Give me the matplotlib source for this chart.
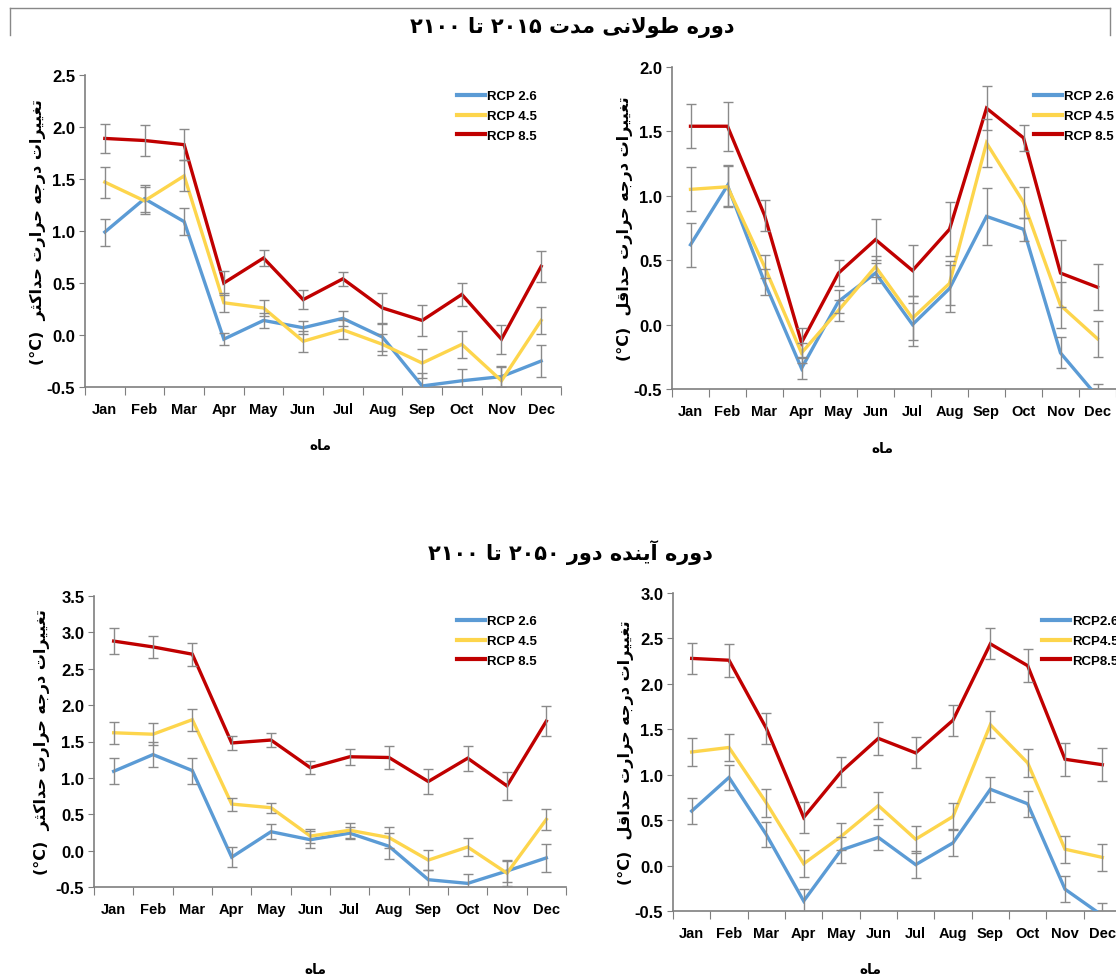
import re
import matplotlib
matplotlib.use('Agg')
from matplotlib import pyplot as plt
from matplotlib.lines import Line2D

months = ['Jan', 'Feb', 'Mar', 'Apr', 'May', 'Jun', 'Jul', 'Aug', 'Sep', 'Oct', 'Nov', 'Dec']
scenarios = ['RCP 2.6', 'RCP 4.5', 'RCP 8.5']
scenarios_nospace = ['RCP2.6', 'RCP4.5', 'RCP8.5']

# long term 2015-2100, max temperature change
tl_rcp26 = [0.99, 1.31, 1.09, -0.04, 0.14, 0.07, 0.16, -0.02, -0.49, -0.44, -0.40, -0.25]
tl_rcp26_err = [0.13, 0.13, 0.13, 0.06, 0.07, 0.06, 0.07, 0.13, 0.12, 0.11, 0.10, 0.15]
tl_rcp45 = [1.47, 1.29, 1.53, 0.31, 0.26, -0.06, 0.05, -0.09, -0.27, -0.09, -0.44, 0.14]
tl_rcp45_err = [0.15, 0.13, 0.15, 0.09, 0.08, 0.10, 0.09, 0.10, 0.14, 0.13, 0.13, 0.13]
tl_rcp85 = [1.89, 1.87, 1.83, 0.50, 0.74, 0.34, 0.54, 0.26, 0.14, 0.39, -0.04, 0.66]
tl_rcp85_err = [0.14, 0.15, 0.15, 0.12, 0.08, 0.09, 0.07, 0.14, 0.15, 0.11, 0.14, 0.15]

# long term 2015-2100, min temperature change
tr_rcp26 = [0.62, 1.08, 0.33, -0.34, 0.18, 0.40, 0.00, 0.28, 0.84, 0.74, -0.22, -0.56]
tr_rcp26_err = [0.17, 0.16, 0.10, 0.08, 0.09, 0.08, 0.17, 0.18, 0.22, 0.09, 0.12, 0.10]
tr_rcp45 = [1.05, 1.07, 0.45, -0.22, 0.11, 0.45, 0.05, 0.32, 1.41, 0.95, 0.15, -0.11]
tr_rcp45_err = [0.17, 0.16, 0.09, 0.08, 0.08, 0.08, 0.17, 0.17, 0.19, 0.12, 0.18, 0.14]
tr_rcp85 = [1.54, 1.54, 0.85, -0.14, 0.40, 0.66, 0.42, 0.74, 1.68, 1.45, 0.40, 0.29]
tr_rcp85_err = [0.17, 0.19, 0.12, 0.11, 0.10, 0.16, 0.20, 0.21, 0.17, 0.10, 0.26, 0.18]

# far future 2050-2100, max temperature change
bl_rcp26 = [1.09, 1.32, 1.10, -0.09, 0.26, 0.15, 0.24, 0.06, -0.40, -0.45, -0.28, -0.10]
bl_rcp26_err = [0.18, 0.17, 0.18, 0.14, 0.10, 0.12, 0.08, 0.18, 0.13, 0.13, 0.15, 0.19]
bl_rcp45 = [1.62, 1.60, 1.80, 0.64, 0.59, 0.20, 0.28, 0.18, -0.13, 0.05, -0.31, 0.43]
bl_rcp45_err = [0.15, 0.15, 0.15, 0.09, 0.07, 0.10, 0.10, 0.14, 0.14, 0.12, 0.17, 0.14]
bl_rcp85 = [2.88, 2.80, 2.70, 1.48, 1.52, 1.14, 1.29, 1.28, 0.95, 1.27, 0.89, 1.78]
bl_rcp85_err = [0.18, 0.15, 0.16, 0.10, 0.10, 0.09, 0.11, 0.16, 0.17, 0.17, 0.19, 0.21]

# far future 2050-2100, min temperature change
br_rcp26 = [0.60, 0.97, 0.34, -0.39, 0.17, 0.31, 0.01, 0.25, 0.84, 0.68, -0.26, -0.55]
br_rcp26_err = [0.14, 0.14, 0.14, 0.13, 0.14, 0.14, 0.15, 0.15, 0.14, 0.14, 0.14, 0.14]
br_rcp45 = [1.25, 1.30, 0.69, 0.02, 0.32, 0.66, 0.29, 0.54, 1.55, 1.13, 0.18, 0.09]
br_rcp45_err = [0.15, 0.15, 0.15, 0.15, 0.15, 0.15, 0.15, 0.15, 0.15, 0.15, 0.15, 0.15]
br_rcp85 = [2.28, 2.26, 1.51, 0.53, 1.03, 1.40, 1.24, 1.60, 2.44, 2.20, 1.17, 1.11]
br_rcp85_err = [0.175, 0.18, 0.17, 0.17, 0.17, 0.18, 0.17, 0.17, 0.17, 0.18, 0.18, 0.18]

colors = ['#5B9BD5', '#FDD54C', '#C00000']

title_long = 'دوره طولانی مدت ۲۰۱۵ تا ۲۱۰۰'
title_far = 'دوره آینده دور ۲۰۵۰ تا ۲۱۰۰'
ylab_max = 'تغییرات درجه حرارت حداکثر'
ylab_min = 'تغییرات درجه حرارت حداقل'
xlab = 'ماه'

# contextual forms: isolated, final, initial, medial (None = does not join to next letter)
FORMS = {
    'ا': ('\uFE8D', '\uFE8E', None, None),
    'آ': ('\uFE81', '\uFE82', None, None),
    'د': ('\uFEA9', '\uFEAA', None, None),
    'ر': ('\uFEAD', '\uFEAE', None, None),
    'و': ('\uFEED', '\uFEEE', None, None),
    'ت': ('\uFE95', '\uFE96', '\uFE97', '\uFE98'),
    'ث': ('\uFE99', '\uFE9A', '\uFE9B', '\uFE9C'),
    'ج': ('\uFE9D', '\uFE9E', '\uFE9F', '\uFEA0'),
    'ح': ('\uFEA1', '\uFEA2', '\uFEA3', '\uFEA4'),
    'ط': ('\uFEC1', '\uFEC2', '\uFEC3', '\uFEC4'),
    'غ': ('\uFECD', '\uFECE', '\uFECF', '\uFED0'),
    'ق': ('\uFED5', '\uFED6', '\uFED7', '\uFED8'),
    'ک': ('\uFB8E', '\uFB8F', '\uFB90', '\uFB91'),
    'ل': ('\uFEDD', '\uFEDE', '\uFEDF', '\uFEE0'),
    'م': ('\uFEE1', '\uFEE2', '\uFEE3', '\uFEE4'),
    'ن': ('\uFEE5', '\uFEE6', '\uFEE7', '\uFEE8'),
    'ه': ('\uFEE9', '\uFEEA', '\uFEEB', '\uFEEC'),
    'ی': ('\uFBFC', '\uFBFD', '\uFBFE', '\uFBFF'),
}


def joins_next(c):
    return c in FORMS and FORMS[c][2] is not None


# matplotlib does no arabic shaping, so pick the glyph forms by hand and lay out right to left
def rtl(text):
    glyphs = []
    i = 0
    while i < len(text):
        c = text[i]
        prev = text[i - 1] if i > 0 else ''
        nxt = text[i + 1] if i + 1 < len(text) else ''
        if c not in FORMS:
            glyphs.append(c)
            i += 1
            continue
        p = joins_next(prev)
        if c == 'ل' and nxt == 'ا':
            glyphs.append('\uFEFC' if p else '\uFEFB')
            i += 2
            continue
        n = joins_next(c) and nxt in FORMS
        f = FORMS[c]
        if p and n:
            glyphs.append(f[3])
        elif p:
            glyphs.append(f[1])
        elif n:
            glyphs.append(f[2])
        else:
            glyphs.append(f[0])
        i += 1
    s = ''.join(glyphs)
    # reverse, but keep digit runs in reading order
    parts = re.findall('[\u06F0-\u06F90-9]+|[^\u06F0-\u06F90-9]+', s)
    out = []
    for part in reversed(parts):
        if re.match('[\u06F0-\u06F90-9]', part):
            out.append(part)
        else:
            out.append(part[::-1])
    return ''.join(out)


W, H = 1116, 979
fig = plt.figure(figsize=(W / 100, H / 100), dpi=100)

latin = ['Liberation Sans', 'DejaVu Sans']
tick_font = {'family': latin, 'weight': 'bold'}
fa_font = ['DejaVu Sans']


def px_axes(left, right, top, bottom):
    return fig.add_axes([left / W, 1 - bottom / H, (right - left) / W, (bottom - top) / H])


def panel(box, series, errs, ylim, yticks, ylabel, ylab_x, xlab_pos, leg_pos, labels):
    ax = px_axes(*box)
    x = list(range(len(months)))
    for vals, err, col, lab in zip(series, errs, colors, labels):
        ax.plot(x, vals, color=col, lw=2.4, label=lab, zorder=3, solid_joinstyle='miter')
        ax.errorbar(x, vals, yerr=err, fmt='none', ecolor='#8a8a8a', elinewidth=1.0,
                    capsize=3.5, capthick=1.0, zorder=4)
    ax.set_xlim(-0.5, 11.5)
    ax.set_ylim(*ylim)
    ax.set_yticks(yticks)
    ax.set_yticklabels(['%.1f' % v for v in yticks], fontdict=tick_font, fontsize=12)
    ax.set_xticks([i - 0.5 for i in range(13)])
    ax.set_xticklabels([])
    ax.set_xticks(x, minor=True)
    ax.set_xticklabels(months, minor=True, fontdict=tick_font, fontsize=10.5)
    ax.tick_params(axis='x', which='major', direction='out', length=6, color='#7f7f7f')
    ax.tick_params(axis='x', which='minor', length=0, pad=11)
    ax.tick_params(axis='y', direction='out', length=4, color='#7f7f7f', pad=3)
    for s in ['top', 'right']:
        ax.spines[s].set_visible(False)
    for s in ['left', 'bottom']:
        ax.spines[s].set_color('#7f7f7f')
        ax.spines[s].set_linewidth(1.2)
    ax.patch.set_alpha(0)

    # y label: rotated persian text with the unit
    cy = (box[2] + box[3]) / 2
    fig.text(ylab_x / W, 1 - cy / H, '(°C)  ' + rtl(ylabel), rotation=90, ha='center', va='center',
             fontsize=11.5, fontweight='bold', family=fa_font)
    fig.text(xlab_pos[0] / W, 1 - xlab_pos[1] / H, rtl(xlab), ha='center', va='center',
             fontsize=10, fontweight='bold', family=fa_font)

    handles = [Line2D([0], [0], color=c, lw=3) for c in colors]
    ax.legend(handles, labels, loc='upper left', bbox_to_anchor=(leg_pos[0] / W, 1 - leg_pos[1] / H),
              bbox_transform=fig.transFigure, frameon=False, handlelength=2.1, handletextpad=0.15,
              labelspacing=0.58, borderpad=0, borderaxespad=0,
              prop={'family': latin, 'weight': 'bold', 'size': 9.5})
    return ax


panel((85, 561, 76, 388), [tl_rcp26, tl_rcp45, tl_rcp85], [tl_rcp26_err, tl_rcp45_err, tl_rcp85_err],
      (-0.5, 2.5), [-0.5, 0.0, 0.5, 1.0, 1.5, 2.0, 2.5], ylab_max, 38, (320, 446), (457, 91), scenarios)

panel((672, 1116, 68, 390), [tr_rcp26, tr_rcp45, tr_rcp85], [tr_rcp26_err, tr_rcp45_err, tr_rcp85_err],
      (-0.5, 2.0), [-0.5, 0.0, 0.5, 1.0, 1.5, 2.0], ylab_min, 625, (882, 449), (1034, 91), scenarios)

panel((94, 566, 597, 888), [bl_rcp26, bl_rcp45, bl_rcp85], [bl_rcp26_err, bl_rcp45_err, bl_rcp85_err],
      (-0.5, 3.5), [-0.5, 0.0, 0.5, 1.0, 1.5, 2.0, 2.5, 3.0, 3.5], ylab_max, 42, (315, 970), (457, 616), scenarios)

panel((673, 1121, 594, 912), [br_rcp26, br_rcp45, br_rcp85], [br_rcp26_err, br_rcp45_err, br_rcp85_err],
      (-0.5, 3.0), [-0.5, 0.0, 0.5, 1.0, 1.5, 2.0, 2.5, 3.0], ylab_min, 626, (870, 970), (1042, 616),
      scenarios_nospace)

# titles
fig.text(572 / W, 1 - 28 / H, rtl(title_long), ha='center', va='center', fontsize=15,
         fontweight='bold', family=fa_font)
fig.text(571 / W, 1 - 553 / H, rtl(title_far), ha='center', va='center', fontsize=15,
         fontweight='bold', family=fa_font)

# leftover frame lines along the top
fig.add_artist(Line2D([10 / W, 1110 / W], [1 - 9 / H, 1 - 9 / H], color='#888888', lw=1))
fig.add_artist(Line2D([10 / W, 10 / W], [1 - 9 / H, 1 - 36 / H], color='#888888', lw=1))
fig.add_artist(Line2D([1110 / W, 1110 / W], [1 - 9 / H, 1 - 36 / H], color='#888888', lw=1))

plt.savefig('out.png', dpi=100)
